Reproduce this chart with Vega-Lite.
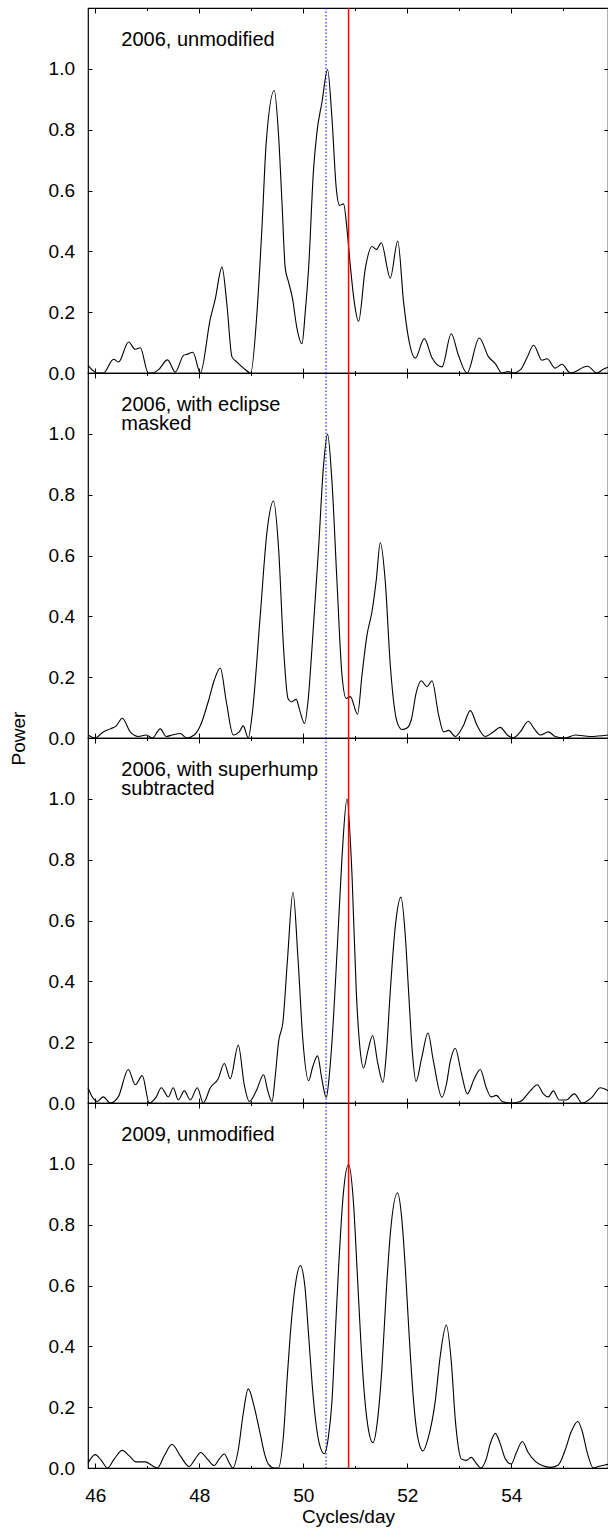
{
  "$schema": "https://vega.github.io/schema/vega-lite/v6.json",
  "padding": {"left": 8, "top": 6, "right": 0, "bottom": 2},
  "spacing": 0,
  "bounds": "flush",
  "config": {
    "font": "Liberation Sans",
    "view": {"stroke": "black", "strokeWidth": 1.2},
    "axis": {"domain": false, "grid": false, "tickColor": "black", "tickWidth": 1, "labelColor": "black", "labelFontSize": 19, "labelFont": "Liberation Sans", "titleColor": "black", "titleFontSize": 19, "titleFontWeight": "normal", "titleFont": "Liberation Sans"}
  },
  "datasets": {
    "p1": [
      {"f":45.860,"p":0.025},{"f":45.942,"p":0.01},{"f":46.038,"p":0.0},{"f":46.154,"p":0.0},{"f":46.352,"p":0.045},{"f":46.448,"p":0.036},{"f":46.640,"p":0.102},{"f":46.769,"p":0.078},{"f":46.865,"p":0.083},{"f":47.019,"p":0.0},{"f":47.096,"p":0.0},{"f":47.217,"p":0.011},{"f":47.390,"p":0.043},{"f":47.538,"p":0.003},{"f":47.698,"p":0.058},{"f":47.775,"p":0.062},{"f":47.879,"p":0.068},{"f":48.019,"p":0.0},{"f":48.212,"p":0.178},{"f":48.308,"p":0.244},{"f":48.437,"p":0.348},{"f":48.533,"p":0.222},{"f":48.629,"p":0.053},{"f":48.725,"p":0.036},{"f":48.852,"p":0.016},{"f":48.990,"p":0.0},{"f":49.110,"p":0.2},{"f":49.206,"p":0.48},{"f":49.288,"p":0.76},{"f":49.442,"p":0.929},{"f":49.525,"p":0.781},{"f":49.590,"p":0.562},{"f":49.654,"p":0.343},{"f":49.717,"p":0.299},{"f":49.794,"p":0.244},{"f":49.875,"p":0.15},{"f":49.975,"p":0.096},{"f":50.038,"p":0.2},{"f":50.102,"p":0.343},{"f":50.198,"p":0.671},{"f":50.263,"p":0.792},{"f":50.360,"p":0.891},{"f":50.467,"p":0.998},{"f":50.552,"p":0.836},{"f":50.635,"p":0.606},{"f":50.698,"p":0.551},{"f":50.775,"p":0.556},{"f":50.840,"p":0.474},{"f":50.904,"p":0.354},{"f":50.981,"p":0.233},{"f":51.063,"p":0.170},{"f":51.192,"p":0.343},{"f":51.321,"p":0.416},{"f":51.404,"p":0.406},{"f":51.500,"p":0.428},{"f":51.673,"p":0.312},{"f":51.817,"p":0.434},{"f":51.929,"p":0.233},{"f":52.025,"p":0.113},{"f":52.154,"p":0.049},{"f":52.327,"p":0.113},{"f":52.475,"p":0.05},{"f":52.667,"p":0.020},{"f":52.846,"p":0.129},{"f":52.981,"p":0.06},{"f":53.148,"p":0.0},{"f":53.385,"p":0.115},{"f":53.563,"p":0.053},{"f":53.692,"p":0.031},{"f":53.821,"p":0.0},{"f":53.942,"p":0.005},{"f":54.038,"p":0.0},{"f":54.173,"p":0.01},{"f":54.302,"p":0.05},{"f":54.429,"p":0.091},{"f":54.590,"p":0.042},{"f":54.687,"p":0.047},{"f":54.846,"p":0.016},{"f":54.975,"p":0.029},{"f":55.135,"p":0.0},{"f":55.467,"p":0.022},{"f":55.648,"p":0.0},{"f":55.775,"p":0.013},{"f":55.865,"p":0.02}
    ],
    "p2": [
      {"f":45.860,"p":0.01},{"f":46.000,"p":0.0},{"f":46.154,"p":0.02},{"f":46.288,"p":0.03},{"f":46.404,"p":0.04},{"f":46.519,"p":0.065},{"f":46.673,"p":0.02},{"f":46.827,"p":0.005},{"f":46.981,"p":0.01},{"f":47.096,"p":0.0},{"f":47.250,"p":0.03},{"f":47.365,"p":0.005},{"f":47.481,"p":0.01},{"f":47.635,"p":0.015},{"f":47.750,"p":0.0},{"f":47.904,"p":0.01},{"f":48.019,"p":0.04},{"f":48.173,"p":0.12},{"f":48.288,"p":0.19},{"f":48.404,"p":0.23},{"f":48.519,"p":0.12},{"f":48.654,"p":0.01},{"f":48.769,"p":0.02},{"f":48.846,"p":0.04},{"f":48.942,"p":0.0},{"f":49.019,"p":0.08},{"f":49.173,"p":0.404},{"f":49.302,"p":0.678},{"f":49.429,"p":0.779},{"f":49.525,"p":0.623},{"f":49.621,"p":0.294},{"f":49.706,"p":0.130},{"f":49.769,"p":0.119},{"f":49.865,"p":0.127},{"f":49.933,"p":0.09},{"f":50.025,"p":0.048},{"f":50.096,"p":0.13},{"f":50.167,"p":0.294},{"f":50.294,"p":0.623},{"f":50.390,"p":0.897},{"f":50.467,"p":0.999},{"f":50.552,"p":0.842},{"f":50.648,"p":0.514},{"f":50.744,"p":0.207},{"f":50.827,"p":0.130},{"f":50.904,"p":0.136},{"f":51.044,"p":0.078},{"f":51.129,"p":0.207},{"f":51.225,"p":0.338},{"f":51.321,"p":0.415},{"f":51.404,"p":0.52},{"f":51.481,"p":0.642},{"f":51.577,"p":0.514},{"f":51.673,"p":0.240},{"f":51.802,"p":0.054},{"f":51.898,"p":0.028},{"f":51.994,"p":0.033},{"f":52.077,"p":0.06},{"f":52.173,"p":0.15},{"f":52.269,"p":0.188},{"f":52.379,"p":0.169},{"f":52.475,"p":0.188},{"f":52.602,"p":0.076},{"f":52.698,"p":0.02},{"f":52.794,"p":0.025},{"f":52.923,"p":0.005},{"f":53.077,"p":0.04},{"f":53.212,"p":0.09},{"f":53.346,"p":0.04},{"f":53.500,"p":0.005},{"f":53.654,"p":0.02},{"f":53.788,"p":0.035},{"f":53.923,"p":0.01},{"f":54.038,"p":0.0},{"f":54.173,"p":0.02},{"f":54.327,"p":0.055},{"f":54.442,"p":0.03},{"f":54.558,"p":0.01},{"f":54.712,"p":0.02},{"f":54.846,"p":0.005},{"f":55.038,"p":0.0},{"f":55.231,"p":0.01},{"f":55.519,"p":0.005},{"f":55.865,"p":0.01}
    ],
    "p3": [
      {"f":45.860,"p":0.05},{"f":45.942,"p":0.02},{"f":46.038,"p":0.005},{"f":46.154,"p":0.02},{"f":46.288,"p":0.0},{"f":46.442,"p":0.02},{"f":46.635,"p":0.11},{"f":46.769,"p":0.06},{"f":46.904,"p":0.09},{"f":47.038,"p":0.0},{"f":47.173,"p":0.02},{"f":47.269,"p":0.05},{"f":47.404,"p":0.02},{"f":47.500,"p":0.05},{"f":47.596,"p":0.01},{"f":47.712,"p":0.04},{"f":47.827,"p":0.01},{"f":47.962,"p":0.05},{"f":48.077,"p":0.0},{"f":48.212,"p":0.05},{"f":48.365,"p":0.08},{"f":48.481,"p":0.13},{"f":48.596,"p":0.08},{"f":48.750,"p":0.19},{"f":48.865,"p":0.06},{"f":48.962,"p":0.005},{"f":49.096,"p":0.04},{"f":49.237,"p":0.093},{"f":49.317,"p":0.04},{"f":49.398,"p":0.005},{"f":49.462,"p":0.09},{"f":49.525,"p":0.202},{"f":49.610,"p":0.268},{"f":49.698,"p":0.476},{"f":49.802,"p":0.693},{"f":49.898,"p":0.476},{"f":49.994,"p":0.202},{"f":50.102,"p":0.073},{"f":50.183,"p":0.12},{"f":50.275,"p":0.155},{"f":50.356,"p":0.08},{"f":50.442,"p":0.018},{"f":50.500,"p":0.09},{"f":50.552,"p":0.202},{"f":50.660,"p":0.531},{"f":50.744,"p":0.805},{"f":50.840,"p":0.999},{"f":50.937,"p":0.750},{"f":51.019,"p":0.367},{"f":51.096,"p":0.17},{"f":51.160,"p":0.115},{"f":51.240,"p":0.17},{"f":51.333,"p":0.222},{"f":51.433,"p":0.13},{"f":51.533,"p":0.068},{"f":51.596,"p":0.16},{"f":51.673,"p":0.367},{"f":51.769,"p":0.58},{"f":51.879,"p":0.677},{"f":51.962,"p":0.55},{"f":52.025,"p":0.367},{"f":52.096,"p":0.17},{"f":52.167,"p":0.071},{"f":52.279,"p":0.15},{"f":52.398,"p":0.230},{"f":52.500,"p":0.14},{"f":52.667,"p":0.019},{"f":52.750,"p":0.06},{"f":52.827,"p":0.137},{"f":52.923,"p":0.18},{"f":53.038,"p":0.1},{"f":53.154,"p":0.03},{"f":53.288,"p":0.08},{"f":53.404,"p":0.11},{"f":53.519,"p":0.05},{"f":53.615,"p":0.02},{"f":53.712,"p":0.025},{"f":53.827,"p":0.005},{"f":53.981,"p":0.0},{"f":54.173,"p":0.005},{"f":54.365,"p":0.04},{"f":54.500,"p":0.06},{"f":54.615,"p":0.03},{"f":54.712,"p":0.02},{"f":54.808,"p":0.04},{"f":54.923,"p":0.01},{"f":55.058,"p":0.01},{"f":55.212,"p":0.03},{"f":55.365,"p":0.0},{"f":55.558,"p":0.02},{"f":55.712,"p":0.05},{"f":55.865,"p":0.04}
    ],
    "p4": [
      {"f":45.860,"p":0.016},{"f":46.000,"p":0.044},{"f":46.115,"p":0.025},{"f":46.238,"p":0.0},{"f":46.365,"p":0.03},{"f":46.519,"p":0.058},{"f":46.654,"p":0.04},{"f":46.783,"p":0.02},{"f":46.967,"p":0.02},{"f":47.077,"p":0.01},{"f":47.192,"p":0.0},{"f":47.327,"p":0.04},{"f":47.475,"p":0.078},{"f":47.635,"p":0.04},{"f":47.804,"p":0.005},{"f":47.923,"p":0.03},{"f":48.027,"p":0.051},{"f":48.154,"p":0.03},{"f":48.288,"p":0.008},{"f":48.385,"p":0.03},{"f":48.481,"p":0.046},{"f":48.567,"p":0.02},{"f":48.646,"p":0.0},{"f":48.750,"p":0.06},{"f":48.846,"p":0.18},{"f":48.942,"p":0.26},{"f":49.058,"p":0.2},{"f":49.173,"p":0.111},{"f":49.250,"p":0.05},{"f":49.333,"p":0.012},{"f":49.442,"p":0.0},{"f":49.519,"p":0.0},{"f":49.621,"p":0.111},{"f":49.692,"p":0.3},{"f":49.750,"p":0.439},{"f":49.846,"p":0.6},{"f":49.942,"p":0.666},{"f":50.029,"p":0.6},{"f":50.102,"p":0.439},{"f":50.173,"p":0.27},{"f":50.231,"p":0.165},{"f":50.308,"p":0.08},{"f":50.404,"p":0.047},{"f":50.481,"p":0.1},{"f":50.552,"p":0.220},{"f":50.615,"p":0.44},{"f":50.679,"p":0.658},{"f":50.769,"p":0.9},{"f":50.871,"p":0.998},{"f":50.962,"p":0.88},{"f":51.033,"p":0.658},{"f":51.096,"p":0.45},{"f":51.160,"p":0.275},{"f":51.240,"p":0.14},{"f":51.340,"p":0.083},{"f":51.423,"p":0.15},{"f":51.513,"p":0.330},{"f":51.596,"p":0.58},{"f":51.673,"p":0.768},{"f":51.813,"p":0.905},{"f":51.894,"p":0.82},{"f":51.962,"p":0.658},{"f":52.038,"p":0.43},{"f":52.121,"p":0.220},{"f":52.202,"p":0.1},{"f":52.302,"p":0.056},{"f":52.404,"p":0.1},{"f":52.538,"p":0.220},{"f":52.635,"p":0.37},{"f":52.750,"p":0.470},{"f":52.846,"p":0.35},{"f":52.923,"p":0.16},{"f":52.981,"p":0.07},{"f":53.038,"p":0.03},{"f":53.135,"p":0.025},{"f":53.231,"p":0.035},{"f":53.327,"p":0.015},{"f":53.415,"p":0.0},{"f":53.519,"p":0.03},{"f":53.596,"p":0.08},{"f":53.692,"p":0.114},{"f":53.788,"p":0.08},{"f":53.885,"p":0.03},{"f":53.998,"p":0.013},{"f":54.096,"p":0.05},{"f":54.212,"p":0.087},{"f":54.327,"p":0.05},{"f":54.462,"p":0.022},{"f":54.596,"p":0.008},{"f":54.750,"p":0.002},{"f":54.904,"p":0.01},{"f":55.038,"p":0.06},{"f":55.154,"p":0.12},{"f":55.279,"p":0.153},{"f":55.365,"p":0.12},{"f":55.462,"p":0.05},{"f":55.577,"p":0.0},{"f":55.673,"p":0.005},{"f":55.802,"p":0.01},{"f":55.865,"p":0.012}
    ]
  },
  "vconcat": [
    {
      "width": 520, "height": 365,
      "layer": [
        {"data": {"name": "p1"}, "mark": {"type": "line", "color": "black", "strokeWidth": 1.1, "interpolate": "monotone"},
         "encoding": {
           "x": {"field": "f", "type": "quantitative", "scale": {"domain": [45.86, 55.86], "nice": false, "zero": false}, "axis": {"orient": "bottom", "values": [46,47,48,49,50,51,52,53,54,55], "tickSize": {"condition": {"test": "datum.value % 2 === 1", "value": -2.5}, "value": -5}, "labels": false, "title": null}},
           "y": {"field": "p", "type": "quantitative", "scale": {"domain": [0, 1.2], "nice": false}, "axis": {"orient": "left", "values": [0,0.2,0.4,0.6,0.8,1.0], "format": ".1f", "tickSize": -4, "labelPadding": 17.5, "title": null}}}},
        {"data": {"values": [{}]}, "mark": {"type": "rule", "color": "#ff0000", "strokeWidth": 1.5},
         "encoding": {"x": {"datum": 50.871, "type": "quantitative", "axis": null}}},
        {"data": {"values": [{}]}, "mark": {"type": "rule", "color": "#0000ff", "strokeWidth": 1, "strokeDash": [1.5, 2]},
         "encoding": {"x": {"datum": 50.437, "type": "quantitative", "axis": null}}},
        {"data": {"values": [{"t": "2006, unmodified"}]}, "mark": {"type": "text", "align": "left", "baseline": "alphabetic", "fontSize": 20, "lineHeight": 19, "lineBreak": "\n", "color": "black"},
         "encoding": {"text": {"field": "t", "type": "nominal"},
           "x": {"datum": 46.5, "type": "quantitative", "axis": {"orient": "top", "values": [46,47,48,49,50,51,52,53,54,55], "tickSize": {"condition": {"test": "datum.value % 2 === 1", "value": -2.5}, "value": -5}, "labels": false, "title": null}},
           "y": {"datum": 1.076, "type": "quantitative", "axis": {"orient": "right", "values": [0,0.2,0.4,0.6,0.8,1.0], "tickSize": -4, "labels": false, "title": null}}}}
      ]
    },
    {
      "width": 520, "height": 365,
      "layer": [
        {"data": {"name": "p2"}, "mark": {"type": "line", "color": "black", "strokeWidth": 1.1, "interpolate": "monotone"},
         "encoding": {
           "x": {"field": "f", "type": "quantitative", "scale": {"domain": [45.86, 55.86], "nice": false, "zero": false}, "axis": {"orient": "bottom", "values": [46,47,48,49,50,51,52,53,54,55], "tickSize": {"condition": {"test": "datum.value % 2 === 1", "value": -2.5}, "value": -5}, "labels": false, "title": null}},
           "y": {"field": "p", "type": "quantitative", "scale": {"domain": [0, 1.2], "nice": false}, "axis": {"orient": "left", "values": [0,0.2,0.4,0.6,0.8,1.0], "format": ".1f", "tickSize": -4, "labelPadding": 17.5, "title": "Power", "titleY": 365, "titlePadding": 20}}}},
        {"data": {"values": [{}]}, "mark": {"type": "rule", "color": "#ff0000", "strokeWidth": 1.5},
         "encoding": {"x": {"datum": 50.871, "type": "quantitative", "axis": null}}},
        {"data": {"values": [{}]}, "mark": {"type": "rule", "color": "#0000ff", "strokeWidth": 1, "strokeDash": [1.5, 2]},
         "encoding": {"x": {"datum": 50.437, "type": "quantitative", "axis": null}}},
        {"data": {"values": [{"t": "2006, with eclipse\nmasked"}]}, "mark": {"type": "text", "align": "left", "baseline": "alphabetic", "fontSize": 20, "lineHeight": 19, "lineBreak": "\n", "color": "black"},
         "encoding": {"text": {"field": "t", "type": "nominal"},
           "x": {"datum": 46.5, "type": "quantitative", "axis": {"orient": "top", "values": [46,47,48,49,50,51,52,53,54,55], "tickSize": {"condition": {"test": "datum.value % 2 === 1", "value": -2.5}, "value": -5}, "labels": false, "title": null}},
           "y": {"datum": 1.076, "type": "quantitative", "axis": {"orient": "right", "values": [0,0.2,0.4,0.6,0.8,1.0], "tickSize": -4, "labels": false, "title": null}}}}
      ]
    },
    {
      "width": 520, "height": 365,
      "layer": [
        {"data": {"name": "p3"}, "mark": {"type": "line", "color": "black", "strokeWidth": 1.1, "interpolate": "monotone"},
         "encoding": {
           "x": {"field": "f", "type": "quantitative", "scale": {"domain": [45.86, 55.86], "nice": false, "zero": false}, "axis": {"orient": "bottom", "values": [46,47,48,49,50,51,52,53,54,55], "tickSize": {"condition": {"test": "datum.value % 2 === 1", "value": -2.5}, "value": -5}, "labels": false, "title": null}},
           "y": {"field": "p", "type": "quantitative", "scale": {"domain": [0, 1.2], "nice": false}, "axis": {"orient": "left", "values": [0,0.2,0.4,0.6,0.8,1.0], "format": ".1f", "tickSize": -4, "labelPadding": 17.5, "title": null}}}},
        {"data": {"values": [{}]}, "mark": {"type": "rule", "color": "#ff0000", "strokeWidth": 1.5},
         "encoding": {"x": {"datum": 50.871, "type": "quantitative", "axis": null}}},
        {"data": {"values": [{}]}, "mark": {"type": "rule", "color": "#0000ff", "strokeWidth": 1, "strokeDash": [1.5, 2]},
         "encoding": {"x": {"datum": 50.437, "type": "quantitative", "axis": null}}},
        {"data": {"values": [{"t": "2006, with superhump\nsubtracted"}]}, "mark": {"type": "text", "align": "left", "baseline": "alphabetic", "fontSize": 20, "lineHeight": 19, "lineBreak": "\n", "color": "black"},
         "encoding": {"text": {"field": "t", "type": "nominal"},
           "x": {"datum": 46.5, "type": "quantitative", "axis": {"orient": "top", "values": [46,47,48,49,50,51,52,53,54,55], "tickSize": {"condition": {"test": "datum.value % 2 === 1", "value": -2.5}, "value": -5}, "labels": false, "title": null}},
           "y": {"datum": 1.076, "type": "quantitative", "axis": {"orient": "right", "values": [0,0.2,0.4,0.6,0.8,1.0], "tickSize": -4, "labels": false, "title": null}}}}
      ]
    },
    {
      "width": 520, "height": 365,
      "layer": [
        {"data": {"name": "p4"}, "mark": {"type": "line", "color": "black", "strokeWidth": 1.1, "interpolate": "monotone"},
         "encoding": {
           "x": {"field": "f", "type": "quantitative", "scale": {"domain": [45.86, 55.86], "nice": false, "zero": false}, "axis": {"orient": "bottom", "values": [46,47,48,49,50,51,52,53,54,55], "tickSize": {"condition": {"test": "datum.value % 2 === 1", "value": -2.5}, "value": -5}, "labelExpr": "datum.value % 2 === 1 ? '' : datum.label", "labelPadding": 23, "title": "Cycles/day", "titlePadding": 2}},
           "y": {"field": "p", "type": "quantitative", "scale": {"domain": [0, 1.2], "nice": false}, "axis": {"orient": "left", "values": [0,0.2,0.4,0.6,0.8,1.0], "format": ".1f", "tickSize": -4, "labelPadding": 17.5, "title": null}}}},
        {"data": {"values": [{}]}, "mark": {"type": "rule", "color": "#ff0000", "strokeWidth": 1.5},
         "encoding": {"x": {"datum": 50.871, "type": "quantitative", "axis": null}}},
        {"data": {"values": [{}]}, "mark": {"type": "rule", "color": "#0000ff", "strokeWidth": 1, "strokeDash": [1.5, 2]},
         "encoding": {"x": {"datum": 50.437, "type": "quantitative", "axis": null}}},
        {"data": {"values": [{"t": "2009, unmodified"}]}, "mark": {"type": "text", "align": "left", "baseline": "alphabetic", "fontSize": 20, "lineHeight": 19, "lineBreak": "\n", "color": "black"},
         "encoding": {"text": {"field": "t", "type": "nominal"},
           "x": {"datum": 46.5, "type": "quantitative", "axis": {"orient": "top", "values": [46,47,48,49,50,51,52,53,54,55], "tickSize": {"condition": {"test": "datum.value % 2 === 1", "value": -2.5}, "value": -5}, "labels": false, "title": null}},
           "y": {"datum": 1.076, "type": "quantitative", "axis": {"orient": "right", "values": [0,0.2,0.4,0.6,0.8,1.0], "tickSize": -4, "labels": false, "title": null}}}}
      ]
    }
  ]
}
